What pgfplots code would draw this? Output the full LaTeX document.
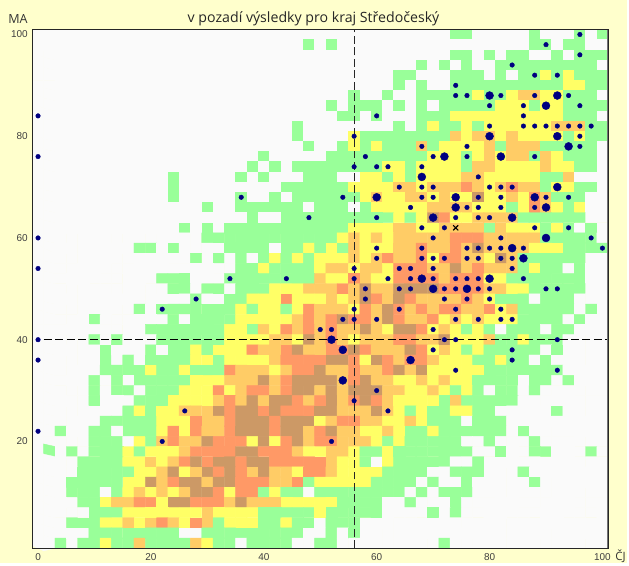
\documentclass[border=0pt]{standalone}
\usepackage{fontspec}
\setmainfont{Liberation Sans}
\newfontfamily\titlefont{Open Sans}
\usepackage{pgfplots}
\pgfplotsset{compat=1.18}
\definecolor{pagebg}{RGB}{255,255,204}
\definecolor{dotblue}{RGB}{0,0,128}
\begin{document}
\begin{tikzpicture}[x=1bp,y=1bp]
\fill[pagebg] (0,0) rectangle (629,565);
\begin{axis}[
  at={(32.5bp,15bp)}, anchor=south west,
  scale only axis, width=577.5bp, height=520.5bp,
  xmin=-1, xmax=101, ymin=-1, ymax=101,
  xtick={0,20,40,60,80,100}, ytick={20,40,60,80,100},
  major tick length=0pt,
  /pgf/number format/assume math mode=true,
  tick label style={font=\fontsize{10bp}{12bp}\selectfont, text=black!75},
  xticklabel style={yshift=-1.5bp},
  yticklabel style={xshift=-1.2bp},
  axis on top,
  axis line style={black!85, line width=0.9bp},
  colormap={cells}{rgb255=(250,250,250) rgb255=(153,255,153) rgb255=(255,255,102) rgb255=(255,204,102) rgb255=(255,153,102) rgb255=(204,153,102)},
  point meta min=0, point meta max=5,
  clip=false,
]
\addplot[matrix plot*, mesh/cols=51, point meta=explicit]
 table[row sep=\\, header=false, meta index=0,
       x expr={2*mod(\coordindex,51)},
       y expr={100-2*floor(\coordindex/51)}] {
0\\0\\0\\0\\0\\0\\0\\0\\0\\0\\0\\0\\0\\0\\0\\0\\0\\0\\0\\0\\0\\0\\0\\0\\0\\0\\0\\0\\0\\0\\0\\0\\0\\0\\0\\0\\0\\1\\1\\0\\0\\0\\0\\0\\1\\0\\0\\0\\1\\0\\1\\
0\\0\\0\\0\\0\\0\\0\\0\\0\\0\\0\\0\\0\\0\\0\\0\\0\\0\\0\\0\\0\\0\\0\\0\\1\\0\\1\\0\\0\\0\\0\\0\\0\\0\\0\\0\\0\\0\\0\\0\\0\\0\\0\\0\\1\\1\\0\\1\\1\\0\\0\\
0\\0\\0\\0\\0\\0\\0\\0\\0\\0\\0\\0\\0\\0\\0\\0\\0\\0\\0\\0\\0\\0\\0\\0\\0\\0\\0\\0\\0\\0\\0\\0\\0\\0\\0\\0\\0\\1\\1\\0\\1\\0\\1\\1\\0\\0\\1\\0\\1\\1\\1\\
0\\0\\0\\0\\0\\0\\0\\0\\0\\0\\0\\0\\0\\0\\0\\0\\0\\0\\0\\0\\0\\0\\0\\0\\0\\0\\0\\0\\0\\0\\0\\0\\0\\0\\1\\0\\1\\0\\1\\0\\0\\1\\1\\1\\1\\1\\1\\1\\1\\1\\0\\
0\\0\\0\\0\\0\\0\\0\\0\\0\\0\\0\\0\\0\\0\\0\\0\\0\\0\\0\\0\\0\\0\\0\\0\\0\\0\\0\\0\\0\\0\\0\\0\\1\\1\\0\\0\\0\\1\\1\\1\\0\\1\\0\\1\\1\\2\\1\\2\\1\\1\\1\\
0\\0\\0\\0\\0\\0\\0\\0\\0\\0\\0\\0\\0\\0\\0\\0\\0\\0\\0\\0\\0\\0\\0\\0\\0\\0\\0\\0\\0\\0\\0\\0\\1\\0\\1\\0\\0\\1\\1\\1\\1\\1\\1\\1\\1\\1\\1\\2\\2\\1\\1\\
0\\0\\0\\0\\0\\0\\0\\0\\0\\0\\0\\0\\0\\0\\0\\0\\0\\0\\0\\0\\0\\0\\0\\0\\0\\0\\0\\0\\1\\0\\0\\1\\0\\0\\1\\1\\1\\1\\1\\2\\1\\1\\2\\3\\3\\2\\2\\1\\1\\1\\0\\
0\\0\\0\\0\\0\\0\\0\\0\\0\\0\\0\\0\\0\\0\\0\\0\\0\\0\\0\\0\\0\\0\\0\\0\\0\\0\\1\\0\\1\\1\\1\\0\\1\\0\\1\\0\\1\\1\\1\\1\\1\\2\\2\\2\\1\\2\\2\\1\\1\\1\\1\\
0\\0\\0\\0\\0\\0\\0\\0\\0\\0\\0\\0\\0\\0\\0\\0\\0\\0\\0\\0\\0\\0\\0\\0\\0\\0\\0\\1\\1\\0\\1\\0\\0\\0\\1\\1\\1\\2\\2\\2\\2\\2\\2\\2\\2\\2\\2\\1\\1\\1\\0\\
0\\0\\0\\0\\0\\0\\0\\0\\0\\0\\0\\0\\0\\0\\0\\0\\0\\0\\0\\0\\0\\0\\0\\1\\0\\0\\0\\0\\0\\0\\0\\0\\1\\0\\1\\2\\1\\1\\2\\1\\2\\2\\2\\2\\2\\2\\3\\3\\3\\1\\1\\
0\\0\\0\\0\\0\\0\\0\\0\\0\\0\\0\\0\\0\\0\\0\\0\\0\\0\\0\\0\\0\\0\\0\\1\\0\\0\\0\\0\\2\\1\\1\\1\\1\\1\\1\\1\\1\\3\\2\\3\\3\\2\\3\\2\\2\\2\\2\\1\\2\\1\\1\\
0\\0\\0\\0\\0\\0\\0\\0\\0\\0\\0\\0\\0\\0\\0\\0\\0\\0\\0\\0\\0\\0\\0\\0\\1\\0\\0\\1\\2\\1\\2\\1\\1\\1\\3\\1\\2\\2\\2\\2\\3\\1\\3\\3\\3\\1\\1\\1\\1\\1\\0\\
0\\0\\0\\0\\0\\0\\0\\0\\0\\0\\0\\0\\0\\0\\0\\0\\0\\0\\0\\0\\1\\0\\0\\0\\0\\0\\1\\1\\1\\1\\1\\1\\1\\1\\1\\2\\2\\2\\1\\2\\3\\2\\3\\3\\1\\3\\2\\1\\1\\1\\0\\
0\\0\\0\\0\\0\\0\\0\\0\\0\\0\\0\\0\\0\\0\\0\\0\\0\\0\\0\\1\\0\\1\\0\\1\\1\\1\\1\\1\\1\\1\\1\\2\\2\\1\\2\\2\\2\\2\\1\\3\\3\\2\\2\\2\\2\\3\\2\\2\\1\\1\\0\\
0\\0\\0\\0\\0\\0\\0\\0\\0\\0\\0\\0\\1\\0\\0\\0\\0\\0\\1\\0\\1\\0\\0\\0\\1\\1\\1\\0\\0\\2\\2\\1\\2\\1\\2\\2\\2\\2\\3\\3\\2\\2\\2\\2\\2\\1\\1\\3\\0\\0\\0\\
0\\0\\0\\0\\0\\0\\0\\0\\0\\0\\0\\0\\1\\0\\0\\0\\0\\0\\0\\0\\0\\0\\1\\1\\1\\1\\1\\1\\2\\2\\2\\2\\3\\3\\2\\3\\3\\3\\4\\3\\2\\3\\4\\3\\3\\1\\2\\2\\1\\1\\0\\
0\\0\\0\\0\\0\\0\\0\\0\\0\\0\\0\\0\\1\\0\\0\\0\\0\\0\\1\\0\\0\\1\\0\\1\\1\\1\\1\\1\\1\\2\\3\\2\\2\\3\\3\\2\\3\\2\\2\\5\\2\\2\\3\\2\\4\\3\\1\\1\\1\\0\\0\\
0\\0\\0\\0\\0\\0\\0\\0\\0\\0\\0\\0\\0\\0\\0\\1\\0\\0\\1\\1\\1\\1\\1\\1\\0\\1\\1\\1\\0\\1\\2\\2\\2\\2\\2\\3\\3\\3\\3\\2\\2\\2\\1\\2\\4\\3\\2\\1\\2\\0\\0\\
0\\0\\0\\0\\0\\0\\0\\0\\0\\0\\0\\0\\0\\0\\0\\0\\0\\0\\0\\1\\0\\0\\1\\1\\1\\1\\1\\1\\1\\1\\1\\1\\2\\1\\2\\5\\4\\2\\2\\3\\3\\3\\3\\1\\1\\1\\1\\1\\1\\0\\0\\
0\\0\\0\\0\\0\\0\\0\\0\\0\\0\\0\\0\\0\\1\\0\\1\\0\\1\\1\\1\\1\\1\\1\\1\\1\\1\\1\\1\\2\\2\\2\\2\\3\\3\\2\\2\\3\\3\\3\\3\\1\\3\\2\\2\\2\\1\\2\\1\\0\\1\\0\\
0\\0\\0\\0\\0\\0\\0\\0\\0\\0\\0\\0\\0\\0\\0\\1\\1\\1\\1\\1\\1\\1\\1\\1\\1\\1\\1\\2\\3\\2\\3\\2\\3\\3\\3\\3\\3\\4\\4\\4\\3\\3\\3\\3\\3\\1\\1\\1\\1\\1\\0\\
0\\0\\0\\0\\0\\0\\0\\0\\0\\1\\1\\0\\1\\0\\0\\0\\0\\1\\1\\1\\1\\0\\1\\1\\2\\1\\2\\1\\3\\2\\2\\2\\3\\3\\4\\3\\3\\4\\3\\5\\3\\3\\3\\3\\2\\2\\2\\1\\1\\1\\1\\
0\\0\\0\\0\\0\\0\\0\\0\\0\\0\\0\\0\\0\\0\\1\\0\\1\\0\\1\\0\\1\\2\\1\\2\\1\\2\\2\\2\\3\\2\\3\\4\\3\\3\\4\\2\\4\\4\\3\\3\\2\\5\\3\\1\\1\\1\\1\\1\\1\\0\\0\\
0\\0\\0\\0\\0\\0\\0\\0\\0\\0\\0\\0\\0\\0\\0\\0\\0\\0\\1\\1\\2\\1\\1\\1\\1\\2\\3\\3\\2\\3\\3\\2\\4\\4\\4\\3\\3\\5\\3\\4\\3\\3\\3\\1\\2\\1\\1\\0\\1\\0\\0\\
0\\0\\0\\0\\0\\0\\0\\0\\0\\0\\0\\1\\1\\1\\0\\0\\0\\1\\1\\1\\1\\1\\1\\1\\1\\3\\2\\2\\4\\3\\2\\2\\4\\4\\4\\4\\3\\4\\4\\4\\2\\2\\1\\1\\1\\1\\1\\1\\1\\0\\0\\
0\\0\\0\\0\\0\\0\\0\\0\\0\\0\\0\\0\\1\\1\\0\\1\\1\\0\\1\\1\\1\\2\\2\\2\\3\\3\\3\\4\\3\\5\\3\\3\\5\\5\\5\\5\\4\\4\\4\\4\\3\\3\\2\\2\\1\\1\\1\\1\\1\\0\\0\\
0\\0\\0\\0\\0\\0\\0\\0\\0\\0\\0\\0\\0\\0\\1\\0\\0\\1\\1\\2\\2\\2\\4\\2\\2\\2\\3\\2\\3\\5\\4\\3\\5\\4\\3\\3\\3\\3\\4\\3\\2\\1\\1\\1\\0\\1\\1\\1\\0\\0\\0\\
0\\0\\0\\0\\0\\0\\0\\0\\0\\1\\0\\1\\1\\1\\1\\1\\1\\1\\2\\1\\2\\2\\1\\2\\4\\3\\3\\3\\2\\4\\3\\5\\4\\3\\4\\3\\4\\4\\3\\3\\4\\2\\3\\1\\1\\1\\1\\1\\0\\1\\0\\
0\\0\\0\\0\\0\\1\\0\\0\\0\\0\\0\\0\\1\\0\\1\\1\\1\\1\\2\\2\\2\\2\\2\\3\\4\\3\\4\\5\\4\\4\\3\\5\\4\\3\\3\\4\\2\\3\\2\\3\\2\\2\\2\\1\\1\\1\\1\\0\\1\\0\\0\\
0\\0\\0\\0\\0\\0\\0\\0\\0\\0\\1\\1\\1\\1\\1\\1\\1\\2\\2\\1\\3\\2\\4\\3\\4\\3\\4\\3\\3\\5\\3\\2\\5\\5\\4\\2\\3\\2\\1\\2\\1\\0\\1\\1\\1\\0\\1\\1\\0\\0\\0\\
0\\0\\0\\0\\0\\1\\0\\1\\0\\0\\0\\1\\1\\1\\1\\1\\1\\2\\2\\2\\2\\3\\3\\2\\5\\3\\4\\3\\2\\3\\3\\3\\4\\4\\3\\3\\5\\2\\2\\2\\3\\1\\1\\2\\1\\1\\1\\0\\0\\0\\0\\
0\\0\\0\\0\\0\\0\\1\\0\\0\\0\\1\\0\\1\\1\\2\\1\\2\\2\\2\\4\\3\\3\\4\\5\\3\\3\\4\\4\\5\\4\\3\\3\\3\\5\\4\\2\\3\\2\\1\\2\\1\\1\\1\\1\\1\\0\\1\\0\\0\\0\\0\\
0\\0\\0\\0\\0\\0\\1\\0\\1\\0\\1\\1\\1\\1\\2\\2\\1\\2\\2\\2\\2\\3\\4\\4\\4\\4\\5\\5\\4\\2\\5\\4\\3\\4\\4\\3\\2\\2\\2\\1\\1\\2\\1\\1\\0\\1\\0\\0\\0\\0\\0\\
0\\0\\0\\0\\0\\0\\1\\1\\1\\1\\2\\1\\1\\2\\1\\1\\1\\4\\3\\3\\3\\2\\3\\4\\4\\5\\3\\3\\4\\3\\3\\4\\5\\3\\5\\2\\2\\2\\2\\2\\1\\1\\1\\1\\1\\1\\1\\0\\0\\0\\0\\
0\\0\\0\\0\\0\\1\\0\\1\\0\\1\\1\\1\\1\\1\\2\\2\\2\\3\\3\\3\\5\\3\\4\\5\\5\\5\\5\\3\\4\\5\\3\\3\\2\\2\\3\\2\\3\\2\\2\\1\\1\\1\\1\\0\\1\\1\\0\\1\\0\\0\\0\\
0\\0\\0\\0\\0\\1\\0\\1\\1\\0\\1\\1\\1\\2\\2\\2\\4\\2\\3\\4\\4\\3\\4\\5\\5\\3\\5\\3\\5\\5\\5\\3\\3\\2\\2\\3\\2\\1\\2\\1\\0\\1\\1\\0\\1\\0\\0\\0\\0\\0\\0\\
0\\0\\0\\0\\0\\1\\0\\0\\0\\1\\1\\1\\2\\2\\2\\2\\3\\4\\3\\5\\3\\5\\5\\4\\3\\4\\5\\3\\4\\5\\4\\3\\2\\2\\2\\2\\1\\3\\1\\1\\1\\1\\1\\0\\0\\0\\0\\0\\0\\0\\0\\
0\\0\\0\\0\\0\\0\\0\\0\\1\\2\\1\\2\\2\\3\\3\\3\\5\\4\\5\\5\\4\\5\\4\\4\\4\\5\\5\\3\\3\\3\\5\\3\\2\\1\\2\\1\\1\\2\\2\\1\\1\\0\\0\\0\\0\\0\\1\\0\\0\\0\\0\\
0\\0\\0\\0\\0\\0\\1\\1\\1\\1\\1\\2\\2\\2\\4\\3\\3\\4\\5\\5\\5\\4\\5\\5\\5\\2\\3\\4\\4\\3\\3\\2\\2\\3\\2\\1\\1\\1\\0\\1\\1\\1\\0\\0\\0\\0\\0\\0\\0\\0\\0\\
0\\0\\1\\0\\0\\1\\1\\0\\1\\1\\1\\2\\4\\2\\4\\3\\3\\4\\5\\5\\5\\4\\5\\5\\3\\4\\5\\3\\3\\2\\2\\3\\2\\1\\1\\2\\1\\1\\1\\1\\1\\1\\0\\1\\0\\0\\0\\0\\0\\0\\0\\
0\\0\\0\\0\\0\\1\\1\\1\\0\\2\\1\\3\\4\\3\\3\\5\\4\\4\\4\\2\\5\\2\\4\\5\\3\\4\\4\\3\\3\\3\\2\\1\\2\\1\\1\\1\\1\\1\\0\\0\\1\\0\\0\\0\\1\\0\\0\\0\\0\\0\\0\\
0\\1\\0\\1\\0\\1\\1\\1\\2\\1\\2\\2\\2\\3\\4\\4\\4\\4\\5\\5\\4\\4\\4\\3\\2\\2\\3\\3\\2\\1\\1\\2\\1\\1\\1\\1\\1\\1\\1\\0\\0\\1\\0\\0\\1\\1\\0\\0\\0\\1\\0\\
0\\0\\0\\0\\1\\1\\1\\1\\2\\2\\3\\2\\3\\4\\5\\4\\5\\5\\4\\5\\5\\4\\4\\4\\4\\4\\3\\2\\2\\1\\0\\2\\1\\1\\1\\1\\1\\0\\0\\1\\0\\0\\0\\0\\0\\0\\0\\0\\0\\0\\0\\
0\\0\\0\\0\\1\\1\\1\\1\\1\\2\\2\\3\\5\\2\\3\\5\\4\\5\\4\\3\\5\\3\\3\\2\\4\\4\\3\\2\\2\\2\\2\\1\\1\\1\\1\\0\\0\\1\\1\\1\\0\\0\\0\\1\\0\\0\\0\\0\\0\\0\\0\\
0\\0\\0\\1\\1\\1\\1\\1\\2\\2\\5\\3\\4\\5\\5\\3\\5\\5\\4\\4\\4\\3\\3\\4\\1\\2\\2\\2\\2\\2\\1\\1\\1\\1\\0\\1\\0\\0\\1\\0\\0\\0\\0\\0\\1\\0\\0\\0\\0\\0\\0\\
0\\0\\0\\1\\1\\1\\0\\1\\2\\3\\2\\3\\2\\3\\5\\5\\4\\2\\4\\4\\1\\2\\1\\1\\0\\1\\1\\1\\1\\1\\1\\1\\1\\0\\1\\0\\1\\1\\1\\0\\0\\0\\0\\0\\0\\0\\0\\0\\0\\0\\0\\
0\\0\\0\\0\\1\\1\\2\\3\\3\\4\\4\\2\\5\\5\\4\\4\\4\\3\\5\\3\\3\\3\\2\\2\\2\\2\\2\\1\\1\\1\\1\\0\\0\\1\\0\\0\\0\\1\\0\\0\\0\\0\\0\\0\\0\\0\\0\\0\\0\\0\\0\\
0\\0\\0\\0\\0\\1\\1\\1\\2\\2\\2\\2\\2\\2\\2\\3\\2\\2\\2\\2\\1\\1\\1\\1\\1\\2\\1\\1\\1\\1\\1\\0\\0\\0\\0\\1\\0\\1\\0\\0\\0\\0\\0\\0\\0\\0\\0\\0\\0\\0\\0\\
0\\0\\0\\1\\1\\1\\2\\2\\3\\2\\3\\4\\3\\2\\4\\3\\1\\2\\2\\2\\1\\1\\2\\1\\1\\0\\1\\1\\1\\0\\0\\0\\0\\0\\0\\0\\0\\0\\0\\0\\0\\0\\0\\0\\0\\0\\0\\0\\0\\0\\0\\
0\\0\\0\\0\\0\\1\\1\\1\\1\\1\\1\\1\\1\\0\\0\\1\\1\\1\\1\\1\\1\\1\\1\\1\\0\\0\\1\\0\\1\\0\\0\\0\\0\\0\\0\\0\\0\\0\\0\\0\\0\\0\\0\\0\\0\\0\\0\\0\\0\\0\\0\\
0\\0\\1\\0\\1\\1\\2\\1\\1\\3\\1\\1\\1\\1\\3\\2\\1\\1\\0\\1\\1\\1\\1\\0\\0\\1\\1\\0\\0\\0\\0\\0\\0\\0\\0\\0\\1\\0\\0\\0\\0\\0\\0\\0\\0\\0\\0\\0\\0\\0\\0\\
};
% reference lines
\addplot[black!85, line width=0.8bp, dash pattern=on 8bp off 3.5bp] coordinates {(56,-1) (56,101)};
\addplot[black, line width=0.8bp, dash pattern=on 8bp off 3.5bp] coordinates {(1,40) (101,40)};
% small dots
\addplot[only marks, mark=*, mark size=2.3bp, color=dotblue] coordinates {
(0,84)(0,76)(0,60)(0,54)(0,40)(0,36)(0,22)
(36,68)(48,64)(34,52)(44,52)(28,48)(22,46)(26,26)(22,20)
(96,100)(90,98)(96,96)(84,94)(88,92)(92,92)(74,90)
(74,88)(76,88)(82,88)(88,88)(94,88)
(80,86)(86,86)(96,86)
(60,84)(86,84)
(80,82)(86,82)(88,82)(90,82)(92,82)(94,82)(96,82)(98,82)
(56,80)(96,80)
(68,78)(76,78)(96,78)
(58,76)(70,76)(76,76)(88,76)
(56,74)(60,74)(62,74)(68,74)
(78,72)
(64,70)(68,70)(70,70)(80,70)(82,70)(84,70)
(54,68)(68,68)(70,68)(78,68)(82,68)(90,68)(94,68)
(66,66)(76,66)(78,66)(82,66)(88,66)
(60,64)(74,64)(78,64)(80,64)
(68,62)(72,62)(88,62)(94,62)
(70,60)(82,60)(98,60)
(60,58)(68,58)(76,58)(78,58)(80,58)(82,58)(86,58)(100,58)
(60,56)(68,56)(70,56)(72,56)(76,56)(78,56)(82,56)(84,56)
(56,54)(64,54)(66,54)(70,54)(84,54)
(56,52)(62,52)(66,52)(70,52)(74,52)(76,52)(78,52)(86,52)
(58,50)(64,50)(66,50)(72,50)(74,50)(78,50)(80,50)(90,50)(92,50)
(58,48)(72,48)(76,48)(80,48)
(56,46)(64,46)(74,46)(82,46)
(54,44)(56,44)(60,44)(74,44)(78,44)(82,44)(84,44)
(50,42)(52,42)(70,42)
(72,40)(74,40)(92,40)
(70,38)(84,38)
(84,36)
(74,34)(92,34)
(60,30)(56,28)(62,26)(52,20)
};
% large dots
\addplot[only marks, mark=*, mark size=4bp, color=dotblue] coordinates {
(80,88)(92,88)(90,86)(80,80)(92,80)(94,78)(72,76)(82,76)(68,72)(92,70)
(60,68)(74,68)(88,68)(74,66)(90,66)(70,64)(84,64)(90,60)(84,58)(86,56)
(68,52)(80,52)(70,50)(76,50)(52,40)(54,38)(66,36)(54,32)
};
% candidate mark
\addplot[only marks, mark=x, mark size=3.6bp, color=black, mark options={line width=1.1bp}] coordinates {(74,62)};
\draw[black!55, line width=1.6bp] (rel axis cs:1,0) -- (rel axis cs:1,1);
\end{axis}
\node[font=\titlefont\fontsize{14.2bp}{16bp}\selectfont, text=black!85, anchor=center] at (314.5,546) {v pozadí výsledky pro kraj Středočeský};
\node[font=\titlefont\fontsize{12.6bp}{14bp}\selectfont, text=black!80, anchor=center] at (18,546) {MA};
\node[font=\titlefont\fontsize{11.5bp}{13bp}\selectfont, text=black!80, anchor=center] at (622.5,7.5) {ČJ};
\end{tikzpicture}
\end{document}
